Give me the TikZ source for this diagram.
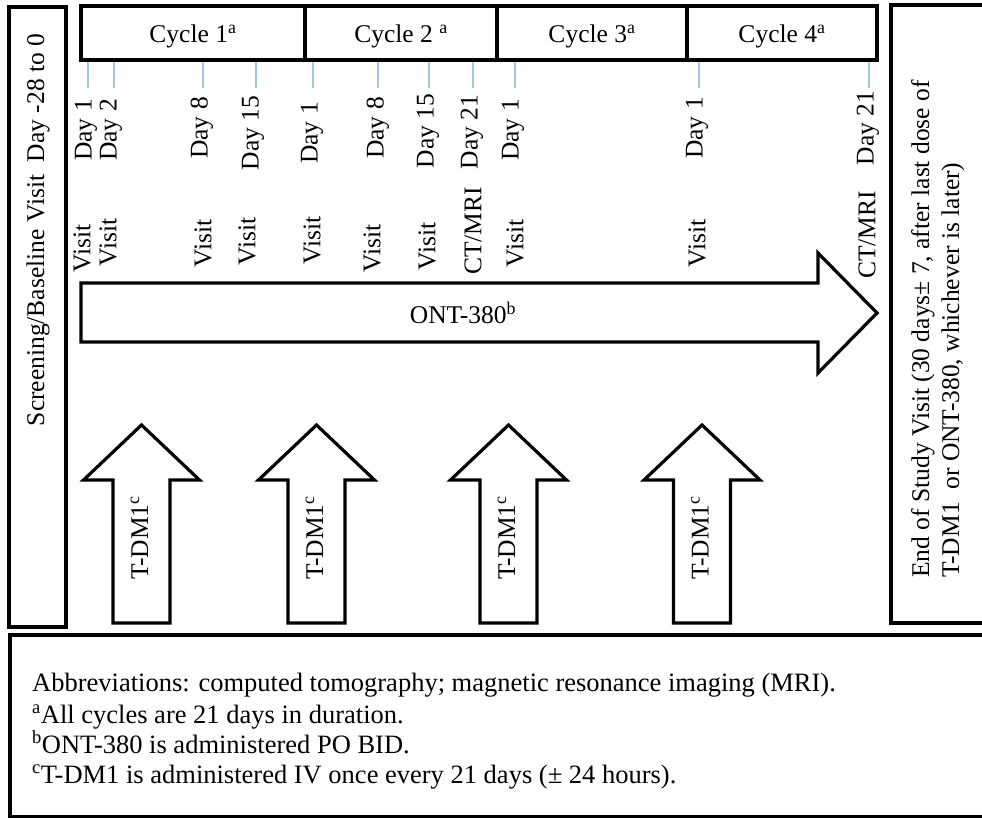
\documentclass[tikz,border=0pt]{standalone}
\usepackage{fontspec}
\setmainfont{Liberation Serif}
\definecolor{tickblue}{RGB}{160,200,228}
\tikzset{
  boxframe/.style={draw=black, line width=3.2pt, fill=white, inner sep=0pt, rectangle},
  cell/.style={draw=black, line width=3.2pt, inner sep=0pt, minimum height=54pt},
  lbl/.style={rotate=90, inner sep=0pt, font=\fontsize{25.5}{30}\selectfont},
  ticker/.style={draw=tickblue, line width=1.6pt},
  blockarrow/.style={draw=black, line width=3.2pt, fill=white, line join=miter},
  note/.style={anchor=base west, inner sep=0pt, font=\fontsize{26.5}{30}\selectfont},
  plain/.style={inner sep=0pt, font=\fontsize{25.5}{30}\selectfont},
}
\begin{document}
\begin{tikzpicture}[x=1pt, y=-1pt]
\useasboundingbox (0,0) rectangle (982,818);
\clip (0,0) rectangle (982,818);
\fill[white] (0,0) rectangle (982,818);

% side boxes
\node[boxframe, minimum width=57pt, minimum height=620pt] (left) at (37.5,317) {};
\node[lbl] (scr) at (38,230) {Screening/Baseline Visit~ Day -28 to 0};

\node[boxframe, minimum width=110pt, minimum height=618pt] (right) at (946,314) {};
\node[lbl, anchor=west] (eos1) at (923,578) {End of Study Visit (30 days± 7, after last dose of};
\node[lbl, anchor=west] (eos2) at (953,578) {T-DM1~ or ONT-380, whichever is later)};

% bottom box
\node[boxframe, minimum width=1000pt, minimum height=182pt] (bottom) at (510,726) {};
\node[note] (abbr) at (32,691) {Abbreviations: computed tomography; magnetic resonance imaging (MRI).};
\node[note] (fa) at (32,723) {\textsuperscript{a}All cycles are 21 days in duration.};
\node[note] (fb) at (32,753) {\textsuperscript{b}ONT-380 is administered PO BID.};
\node[note] (fc) at (32,783) {\textsuperscript{c}T-DM1 is administered IV once every 21 days (± 24 hours).};

% cycle bar
\node[cell, minimum width=224pt] (cy1) at (193,33) {};
\node[cell, minimum width=192pt] (cy2) at (401,33) {};
\node[cell, minimum width=190pt] (cy3) at (592,33) {};
\node[cell, minimum width=190pt] (cy4) at (782,33) {};
\node[plain] (cyt1) at (193,36) {Cycle 1\textsuperscript{a}};
\node[plain] (cyt2) at (401,36) {Cycle 2 \textsuperscript{a}};
\node[plain] (cyt3) at (592,36) {Cycle 3\textsuperscript{a}};
\node[plain] (cyt4) at (782,36) {Cycle 4\textsuperscript{a}};

% ticks
\foreach \tx in {88,114,203,256,313,378,429,473,515,699,869}
  \draw[ticker] (\tx,62) -- (\tx,88);

% day labels
\node[lbl] (d11) at (86,130) {Day 1};
\node[lbl] (d12) at (111,130) {Day 2};
\node[lbl] (d18) at (202,128) {Day 8};
\node[lbl] (d115) at (253,133) {Day 15};
\node[lbl] (d21) at (312,133) {Day 1};
\node[lbl] (d28) at (378,128) {Day 8};
\node[lbl] (d215) at (428,131) {Day 15};
\node[lbl] (d221) at (472,132) {Day 21};
\node[lbl] (d31) at (513,130) {Day 1};
\node[lbl] (d41) at (697,128) {Day 1};
\node[lbl] (d421) at (868,128) {Day 21};

% visit labels
\node[lbl] (v11) at (82,248) {Visit};
\node[lbl] (v12) at (108,242) {Visit};
\node[lbl] (v18) at (203,243) {Visit};
\node[lbl] (v115) at (247,241) {Visit};
\node[lbl] (v21) at (312,240) {Visit};
\node[lbl] (v28) at (372,248) {Visit};
\node[lbl] (v215) at (427,246) {Visit};
\node[lbl] (ct2) at (473,231) {CT/MRI};
\node[lbl] (v31) at (515,243) {Visit};
\node[lbl] (v41) at (697,243) {Visit};
\node[lbl] (ct4) at (867,235) {CT/MRI};

% ONT-380 arrow
\draw[blockarrow] (81,283) -- (818,283) -- (818,253) -- (877,313) -- (818,373) -- (818,342) -- (81,342) -- cycle;
\node[plain] (ont) at (463,313) {ONT-380\textsuperscript{b}};

% T-DM1 arrows
\foreach \cx/\n in {141.5/1, 316.5/2, 508.5/3, 702/4} {
  \draw[blockarrow] (\cx,425) -- (\cx+58,480) -- (\cx+28.5,480) -- (\cx+28.5,623)
     -- (\cx-28.5,623) -- (\cx-28.5,480) -- (\cx-58,480) -- cycle;
  \node[lbl] (tdm\n) at (\cx-2,538) {T-DM1\textsuperscript{c}};
}
\end{tikzpicture}
\end{document}
